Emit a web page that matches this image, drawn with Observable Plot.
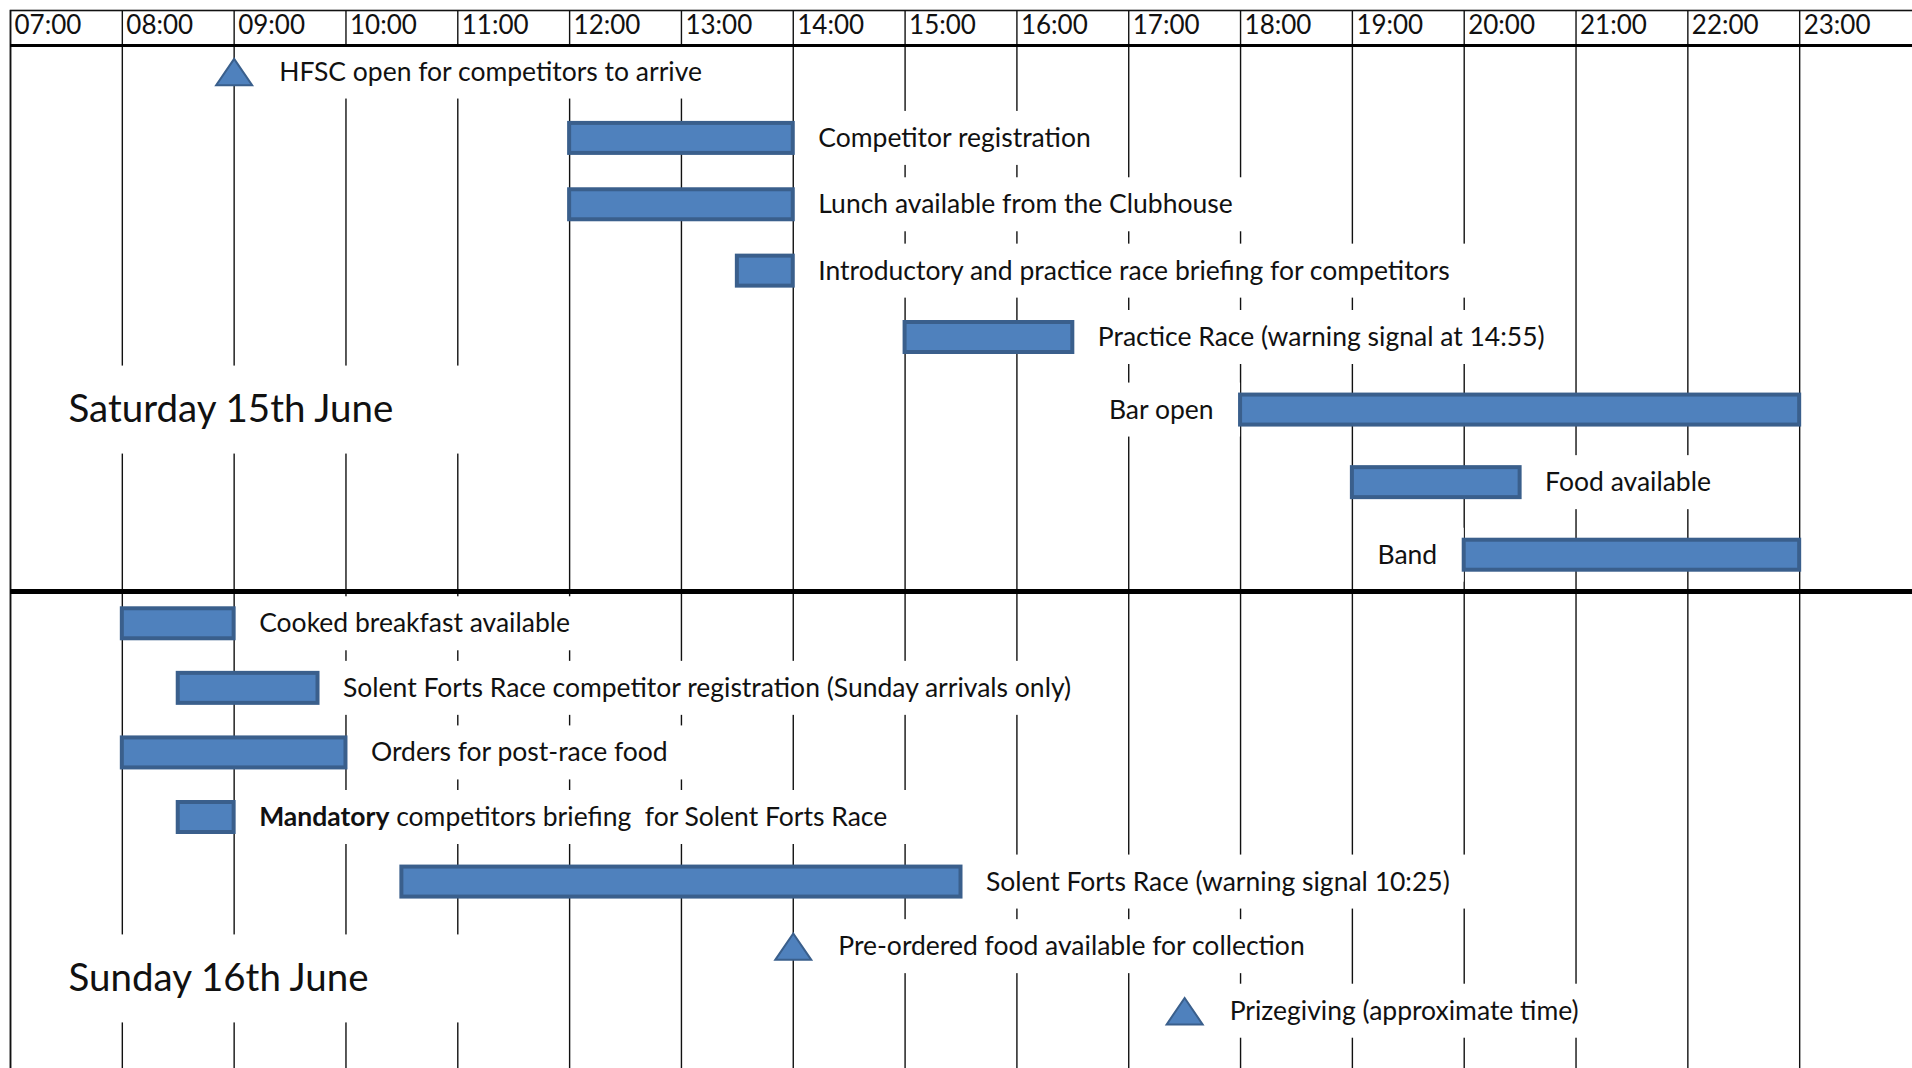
<!DOCTYPE html>
<html><head><meta charset="utf-8">
<script src="https://cdn.jsdelivr.net/npm/d3@7"></script>
<script src="https://cdn.jsdelivr.net/npm/@observablehq/plot@0.6"></script>
<style>
html,body{margin:0;padding:0;background:#fff;overflow:hidden}
#chart svg{display:block}
#chart text{white-space:pre}
</style></head><body><div id="chart"></div>
<script>
// ---------- data ----------
const tickHours  = [7, 8, 9, 10, 11, 12, 13, 14, 15, 16, 17, 18, 19, 20, 21, 22, 23];
const tickLabels = ["07:00","08:00","09:00","10:00","11:00","12:00","13:00","14:00","15:00","16:00","17:00","18:00","19:00","20:00","21:00","22:00","23:00"];

const dayTitles   = ["Saturday 15th June", "Sunday 16th June"];
const dayTitleRow = [5, 13.5];

const satLabels = [
  "HFSC open for competitors to arrive",
  "Competitor registration",
  "Lunch available from the Clubhouse",
  "Introductory and practice race briefing for competitors",
  "Practice Race (warning signal at 14:55)",
  "Bar open",
  "Food available",
  "Band"
];
const satStart = [9, 12, 12, 13.5, 15, 18, 19, 20];
const satEnd   = [null, 14, 14, 14, 16.5, 23, 20.5, 23];

const sunLabels = [
  "Cooked breakfast available",
  "Solent Forts Race competitor registration (Sunday arrivals only)",
  "Orders for post-race food",
  "Mandatory competitors briefing  for Solent Forts Race",
  "Solent Forts Race (warning signal 10:25)",
  "Pre-ordered food available for collection",
  "Prizegiving (approximate time)"
];
const sunStart = [8, 8.5, 8, 8.5, 10.5, 14, 17.5];
const sunEnd   = [9, 9.75, 10, 9, 15.5, null, null];

const leftLabelled = ["Bar open", "Band"];
const boldPrefix = "Mandatory";

// ---------- layout / style ----------
const W = 1912, H = 1068;
const X_RANGE = [10, 1911];
const X_DOMAIN = [7, 24];
const pph = (X_RANGE[1] - X_RANGE[0]) / (X_DOMAIN[1] - X_DOMAIN[0]);
const FONT = "Lato";
const BODY = 26.5, HEAD = 26, TITLE = 38.5;
const BLUE = "#4F81BD", BLUE_DARK = "#3A5F8C", INK = "#111";
const BAR_DX = 25, MS_DX = 45, LEFT_DX = 27;

const ctx = document.createElement("canvas").getContext("2d");
function measure(s, size, weight = "normal") {
  ctx.font = `${weight} ${size}px ${FONT}`;
  return ctx.measureText(s).width;
}
function labelWidth(s) {
  if (s.startsWith(boldPrefix + " ")) {
    return measure(boldPrefix, BODY, "bold") + measure(s.slice(boldPrefix.length), BODY);
  }
  return measure(s, BODY);
}

const rows = [
  ...satLabels.map((label, i) => ({label, start: satStart[i], end: satEnd[i], row: i})),
  ...sunLabels.map((label, i) => ({label, start: sunStart[i], end: sunEnd[i], row: satLabels.length + i}))
];
rows.forEach(d => {
  d.milestone = d.end == null;
  d.left = leftLabelled.includes(d.label);
  d.w = labelWidth(d.label);
  if (d.left) {
    d.anchor = d.start;
    d.bx1 = d.start - (LEFT_DX + d.w + 12) / pph;
    d.bx2 = d.start;
  } else {
    d.anchor = d.milestone ? d.start : d.end;
    const dx = d.milestone ? MS_DX : BAR_DX;
    d.bx1 = d.anchor + (dx - 12) / pph;
    d.bx2 = d.anchor + (dx + d.w + 24) / pph;
  }
});
const bars = rows.filter(d => !d.milestone);
const milestones = rows.filter(d => d.milestone);

const titles = dayTitles.map((t, i) => {
  const w = measure(t, TITLE);
  return {t, row: dayTitleRow[i], x: X_DOMAIN[0], bx1: X_DOMAIN[0] + 46 / pph, bx2: X_DOMAIN[0] + (58 + w + 90) / pph};
});

const isoTriangle = {
  draw(c, size) {
    const r = Math.sqrt(size / Math.PI);
    c.moveTo(0, -1.1 * r);
    c.lineTo(1.5 * r, 1.1 * r);
    c.lineTo(-1.5 * r, 1.1 * r);
    c.closePath();
  }
};

const chart = Plot.plot({
  width: W, height: H,
  marginTop: 10, marginLeft: 10, marginRight: 0, marginBottom: 0,
  x: {type: "linear", domain: X_DOMAIN, range: X_RANGE, axis: null},
  y: {type: "linear", domain: [-0.4, 4, 7.5, 14.5], range: [45, 337, 591, 1043], axis: null},
  style: {fontFamily: FONT, color: INK, background: "white"},
  marks: [
    // hour grid
    Plot.ruleX(tickHours, {x: d => d, stroke: INK, strokeWidth: 1.4}),
    // white text boxes that interrupt the grid
    Plot.rect(rows, {x1: "bx1", x2: "bx2", y1: "row", y2: "row", insetTop: -27, insetBottom: -27, fill: "white"}),
    Plot.rect(titles, {x1: "bx1", x2: "bx2", y1: "row", y2: "row", insetTop: -44, insetBottom: -44, fill: "white"}),
    // borders
    Plot.frame({stroke: INK, strokeWidth: 1.6, insetRight: -4, insetBottom: -4}),
    Plot.ruleY([-0.4], {stroke: "#000", strokeWidth: 3}),
    Plot.ruleY([7.5], {stroke: "#000", strokeWidth: 5}),
    // header labels
    Plot.text(tickHours, {x: d => d, text: (d, i) => tickLabels[i], frameAnchor: "top", dy: 15, dx: 4,
      textAnchor: "start", lineAnchor: "middle", fontSize: HEAD, fill: INK}),
    // bars
    Plot.rect(bars, {x1: "start", x2: "end", y1: "row", y2: "row", insetTop: -15, insetBottom: -15,
      fill: BLUE, stroke: BLUE_DARK, strokeWidth: 4}),
    // milestones
    Plot.dot(milestones, {x: "start", y: "row", symbol: isoTriangle, r: 12, fill: BLUE, stroke: BLUE_DARK, strokeWidth: 2}),
    // labels
    Plot.text(bars.filter(d => !d.left), {x: "end", y: "row", text: "label", dx: BAR_DX, textAnchor: "start",
      lineAnchor: "middle", fontSize: BODY, fill: INK}),
    Plot.text(bars.filter(d => d.left), {x: "start", y: "row", text: "label", dx: -LEFT_DX, textAnchor: "end",
      lineAnchor: "middle", fontSize: BODY, fill: INK}),
    Plot.text(milestones, {x: "start", y: "row", text: "label", dx: MS_DX, textAnchor: "start",
      lineAnchor: "middle", fontSize: BODY, fill: INK}),
    // day titles
    Plot.text(titles, {x: "x", y: "row", text: "t", dx: 58, textAnchor: "start", lineAnchor: "middle",
      fontSize: TITLE, fill: INK})
  ]
});

// bold lead word ("Mandatory")
d3.select(chart).selectAll("text").each(function() {
  const s = this.textContent;
  if (s.startsWith(boldPrefix + " ")) {
    const t = d3.select(this);
    t.text(null);
    t.append("tspan").attr("font-weight", "bold").text(boldPrefix);
    t.append("tspan").text(s.slice(boldPrefix.length));
  }
});

document.getElementById("chart").append(chart);
</script>
</body></html>
